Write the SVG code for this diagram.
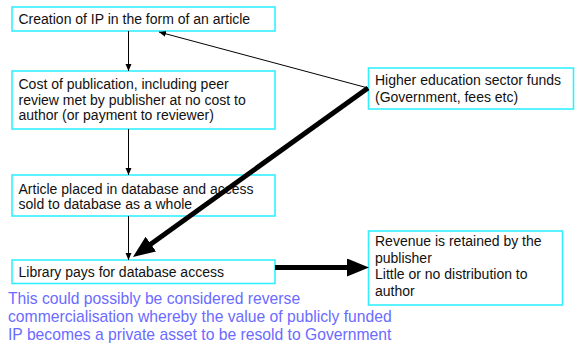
<svg xmlns="http://www.w3.org/2000/svg" width="576" height="345" viewBox="0 0 576 345">
<defs>
<style>
.box{fill:#ffffff;stroke:#33f0ff;stroke-width:1.6}
.t{font-family:"Liberation Sans",Arial,sans-serif;font-size:14px;fill:#111}
.note{font-family:"Liberation Sans",Arial,sans-serif;font-size:15.7px;fill:#6b6bff}
.thin{stroke:#000;stroke-width:1;fill:none}
.thick{stroke:#000;stroke-width:5;fill:none}
</style>
<marker id="ah" markerUnits="userSpaceOnUse" markerWidth="8" markerHeight="7" refX="7" refY="3" orient="auto">
<path d="M0,0 L7,3 L0,6 z" fill="#000"/>
</marker>
<marker id="big" markerUnits="userSpaceOnUse" markerWidth="23" markerHeight="19" refX="5" refY="9" orient="auto">
<path d="M0,0 L22,9 L0,18 z" fill="#000"/>
</marker>
</defs>
<rect width="576" height="345" fill="#ffffff"/>
<g id="n1">
<rect class="box" x="12" y="7" width="263" height="24"/>
<text class="t" x="18.5" y="24">Creation of IP in the form of an article</text>
</g>
<g id="n2">
<rect class="box" x="12" y="71" width="263" height="58"/>
<text class="t" x="18.5" y="89">Cost of publication, including peer</text>
<text class="t" x="18.5" y="104.5">review met by publisher at no cost to</text>
<text class="t" x="18.5" y="120">author (or payment to reviewer)</text>
</g>
<g id="n3">
<rect class="box" x="12" y="175" width="263" height="41"/>
<text class="t" x="18.5" y="193.5">Article placed in database and access</text>
<text class="t" x="18.5" y="209">sold to database as a whole</text>
</g>
<g id="n4">
<rect class="box" x="12" y="260" width="263" height="23.5"/>
<text class="t" x="18.5" y="277">Library pays for database access</text>
</g>
<g id="n5">
<rect class="box" x="368.5" y="231" width="194" height="74"/>
<text class="t" x="375" y="246">Revenue is retained by the</text>
<text class="t" x="375" y="262.5">publisher</text>
<text class="t" x="375" y="279">Little or no distribution to</text>
<text class="t" x="375" y="295.5">author</text>
</g>
<g id="n6">
<rect class="box" x="368.5" y="68" width="205" height="41"/>
<text class="t" x="375" y="85">Higher education sector funds</text>
<text class="t" x="375" y="101.5">(Government, fees etc)</text>
</g>
<g id="note">
<text class="note" x="8" y="303.5">This could possibly be considered reverse</text>
<text class="note" x="8" y="321.5">commercialisation whereby the value of publicly funded</text>
<text class="note" x="8" y="339.5">IP becomes a private asset to be resold to Government</text>
</g>
<g id="connectors">
<line class="thin" x1="128.5" y1="31" x2="128.5" y2="71" marker-end="url(#ah)"/>
<line class="thin" x1="128.5" y1="129" x2="128.5" y2="175" marker-end="url(#ah)"/>
<line class="thin" x1="128.5" y1="216" x2="128.5" y2="260" marker-end="url(#ah)"/>
<line class="thin" x1="368" y1="88" x2="159" y2="32" marker-end="url(#ah)"/>
<line class="thick" x1="368" y1="88" x2="146.8" y2="247" marker-end="url(#big)"/>
<line class="thick" x1="275" y1="267.5" x2="352" y2="267.5" marker-end="url(#big)"/>
</g>
</svg>
